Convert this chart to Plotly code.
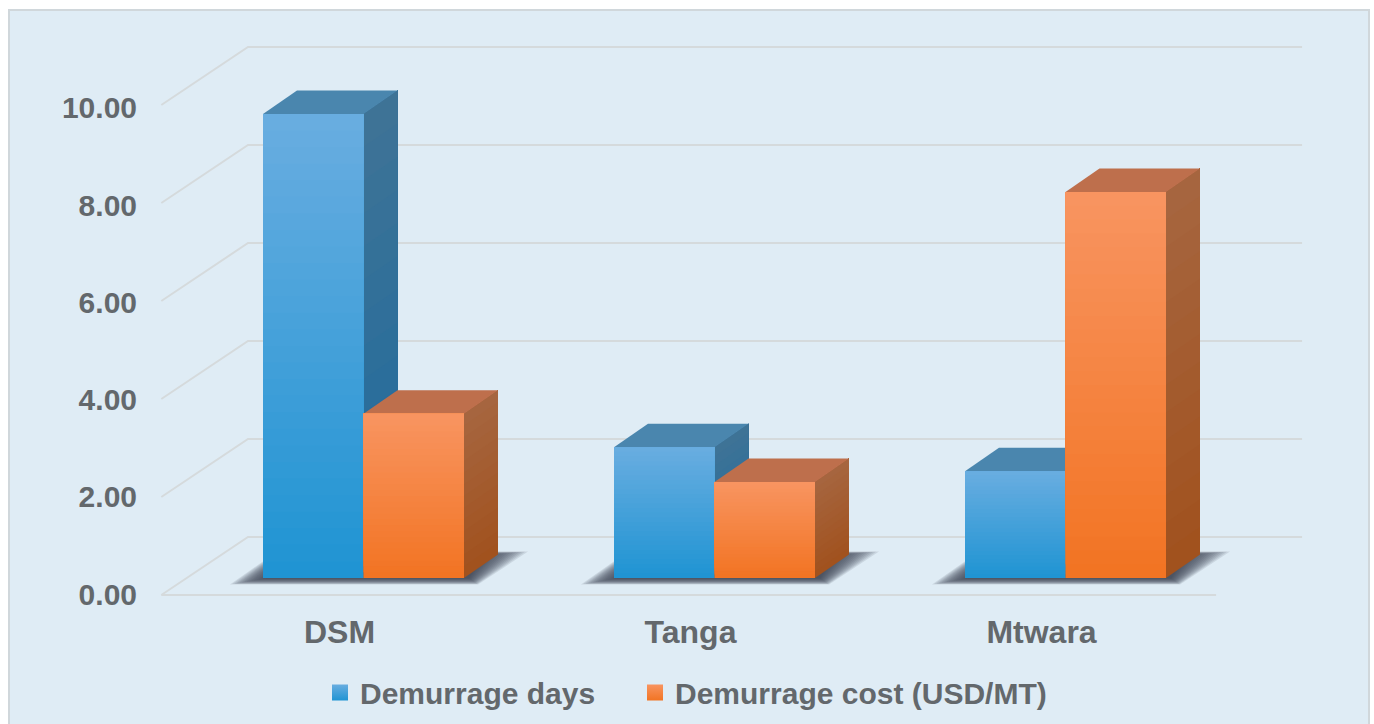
import plotly.graph_objects as go

categories = ["DSM", "Tanga", "Mtwara"]
demurrage_days = [9.47, 2.67, 2.18]
demurrage_cost = [3.35, 1.96, 7.88]
axis_ticks = [0, 2, 4, 6, 8, 10]
axis_labels = ["0.00", "2.00", "4.00", "6.00", "8.00", "10.00"]

W, H = 1374, 724
PX_X, PX_Y = 351.0, 49.0      # pixels per category / per value unit
ORIGIN_X, ORIGIN_Y = 363.5, 578.0
BAR_W = 100.5 / PX_X
DEPTH_X, DEPTH_Y = 34 / PX_X, 23.5 / PX_Y
BACK_X0, BACK_X1, BACK_DY = -0.329, 2.674, 41 / PX_Y
FRONT_X0, FRONT_X1, FRONT_DY = -0.576, 2.429, -17 / PX_Y
TEXT = "#63686C"
GRID = "#D5DADC"
FONT = "Liberation Sans"

STYLES = [
    dict(front=((32, 148, 211), (104, 173, 224)), side=((31, 107, 158), (62, 115, 150)), top="#4A86AE"),
    dict(front=((242, 116, 35), (248, 148, 96)), side=((161, 82, 30), (166, 101, 63)), top="#BE6F4C"),
]
STEPS = 28


def mix(a, b, t):
    return "rgb(%d,%d,%d)" % tuple(round(a[i] + (b[i] - a[i]) * t) for i in range(3))


fig = go.Figure()

# walls and floor
gx, gy = [], []
for v in axis_ticks:
    gx += [FRONT_X0, BACK_X0, BACK_X1, None]
    gy += [v + FRONT_DY, v + BACK_DY, v + BACK_DY, None]
gx += [FRONT_X0, FRONT_X1]
gy += [FRONT_DY, FRONT_DY]
fig.add_trace(go.Scatter(x=gx, y=gy, mode="lines", line=dict(color=GRID, width=2), zorder=-4,
                         showlegend=False, hoverinfo="skip"))

# soft floor shadows
for i in range(len(categories)):
    x0, x1 = i - BAR_W, i + BAR_W
    for n in range(16):
        sy = n * 0.42
        xs = [x0 - (33 - n * 2.4) / PX_X, x1 + (14 - n * 0.6) / PX_X, x1 + (64 - n * 3.0) / PX_X, x0 + (14 + n) / PX_X]
        ys = [(-6.5 + sy) / PX_Y, (-6.5 + sy) / PX_Y, (26.5 - sy * 0.6) / PX_Y, (26.5 - sy * 0.6) / PX_Y]
        fig.add_trace(go.Scatter(x=xs, y=ys, fill="toself", mode="none",
                                 fillcolor="rgba(60,72,82,0.13)", zorder=-3,
                                 showlegend=False, hoverinfo="skip"))

# side and top faces
for s, values in enumerate((demurrage_days, demurrage_cost)):
    st = STYLES[s]
    left_offset = -BAR_W if s == 0 else 0
    for i, v in enumerate(values):
        x0 = i + left_offset
        x1 = x0 + BAR_W
        for k in range(14):
            lo = v * k / 14
            fig.add_trace(go.Scatter(
                x=[x1, x1 + DEPTH_X, x1 + DEPTH_X, x1],
                y=[lo, lo + DEPTH_Y, v + DEPTH_Y, v],
                fill="toself", mode="none", fillcolor=mix(*st["side"], k / 13),
                zorder=-2 + s, showlegend=False, hoverinfo="skip"))
        fig.add_trace(go.Scatter(
            x=[x0, x1, x1 + DEPTH_X, x0 + DEPTH_X], y=[v, v, v + DEPTH_Y, v + DEPTH_Y],
            fill="toself", mode="none", fillcolor=st["top"],
            zorder=-2 + s, showlegend=False, hoverinfo="skip"))

# front faces
for s, (name, values) in enumerate((("Demurrage days", demurrage_days), ("Demurrage cost (USD/MT)", demurrage_cost))):
    st = STYLES[s]
    off = -BAR_W / 2 if s == 0 else BAR_W / 2
    xs = [i + off for i in range(len(values))]
    fig.add_trace(go.Bar(x=xs, y=values, width=BAR_W, marker=dict(color=mix(*st["front"], 0), line_width=0),
                         zorder=1, showlegend=False, hoverinfo="skip"))
    bx, by, bb, bc = [], [], [], []
    for k in range(1, STEPS):
        for x, v in zip(xs, values):
            bx.append(x)
            bb.append(v * k / STEPS)
            by.append(v * (1 - k / STEPS))
            bc.append(mix(*st["front"], k / (STEPS - 1)))
    fig.add_trace(go.Bar(x=bx, y=by, base=bb, width=BAR_W, marker=dict(color=bc, line_width=0),
                         zorder=1, showlegend=False, hoverinfo="skip"))
    fig.add_trace(go.Scatter(x=[None], y=[None], mode="markers", name=name,
                             legend="legend" if s == 0 else "legend2",
                             marker=dict(symbol="square", size=16, color=mix(*st["front"], 1),
                                         gradient=dict(type="vertical", color=mix(*st["front"], 0))),
                             showlegend=True))

legend_common = dict(orientation="h", y=(H - 692.5) / H, yanchor="middle", xanchor="left",
                     font=dict(size=30, family=FONT, weight="bold", color=TEXT),
                     bgcolor="rgba(0,0,0,0)", itemwidth=30)

fig.update_layout(
    width=W, height=H, autosize=False, margin=dict(l=0, r=0, t=0, b=0),
    paper_bgcolor="white", plot_bgcolor="rgba(0,0,0,0)", barmode="overlay",
    font=dict(family=FONT, color=TEXT),
    xaxis=dict(domain=[0, 1], range=[-ORIGIN_X / PX_X, (W - ORIGIN_X) / PX_X],
               tickvals=[i - 24 / PX_X for i in range(len(categories))], ticktext=categories,
               tickfont=dict(size=32, family=FONT, weight="bold", color=TEXT), ticks="", showgrid=False,
               zeroline=False, showline=False, anchor="free", position=(H - 610) / H),
    yaxis=dict(domain=[0, 1], range=[(ORIGIN_Y - H) / PX_Y, ORIGIN_Y / PX_Y],
               tickvals=[v * 0.992 + FRONT_DY + 1 / PX_Y for v in axis_ticks], ticktext=axis_labels,
               tickfont=dict(size=30, family=FONT, weight="bold", color=TEXT), ticks="", showgrid=False,
               zeroline=False, showline=False, anchor="free", position=137 / W),
    legend=dict(x=320 / W, **legend_common),
    legend2=dict(x=635 / W, **legend_common),
    shapes=[dict(type="rect", xref="paper", yref="paper", x0=9 / W, x1=1369 / W, y0=-0.02, y1=(H - 10) / H,
                 fillcolor="#DFECF5", line=dict(color="#D0D7DB", width=2), layer="below")],
)

fig.write_html("out.html", post_script="document.body.style.margin='0';", config={"displayModeBar": False})
